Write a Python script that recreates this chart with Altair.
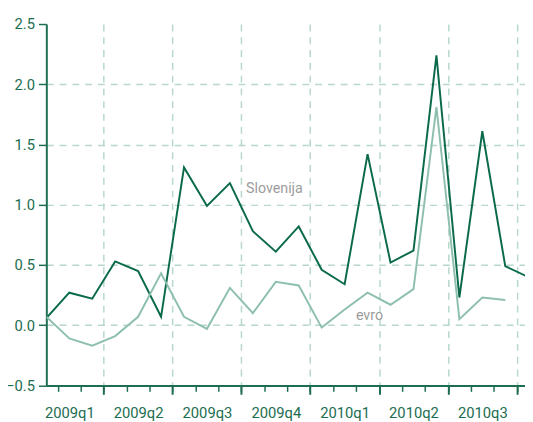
import altair as alt
import pandas as pd

# ---- data (monthly, Jan 2009 .. Oct 2010) ----
months = ["2009-01", "2009-02", "2009-03", "2009-04", "2009-05", "2009-06",
          "2009-07", "2009-08", "2009-09", "2009-10", "2009-11", "2009-12",
          "2010-01", "2010-02", "2010-03", "2010-04", "2010-05", "2010-06",
          "2010-07", "2010-08", "2010-09", "2010-10"]
slovenija = [0.06, 0.27, 0.22, 0.53, 0.45, 0.07, 1.31, 0.99, 1.18, 0.78, 0.61,
             0.82, 0.46, 0.34, 1.42, 0.52, 0.62, 2.24, 0.23, 1.61, 0.49, 0.40]
evro = [0.07, -0.11, -0.17, -0.09, 0.07, 0.43, 0.07, -0.03, 0.31, 0.10, 0.36,
        0.33, -0.02, 0.13, 0.27, 0.17, 0.30, 1.81, 0.05, 0.23, 0.21]

quarters = ["2009q1", "2009q2", "2009q3", "2009q4", "2010q1", "2010q2", "2010q3"]
quarter_centers = [1, 4, 7, 10, 13, 16, 19]
quarter_bounds = [2.5, 5.5, 8.5, 11.5, 14.5, 17.5, 20.5]
month_bounds = [k + 0.5 for k in range(21)]
y_ticks = [-0.5, 0.0, 0.5, 1.0, 1.5, 2.0, 2.5]

series_names = ["Slovenija", "evro"]
series_colors = ["#0b6a4c", "#8fc0ae"]
label_x = [8.7, 13.49]
label_y = [1.13, 0.08]

rows = []
for i, v in enumerate(slovenija):
    rows.append({"i": i, "month": months[i], "v": v, "s": "Slovenija"})
for i, v in enumerate(evro):
    rows.append({"i": i, "month": months[i], "v": v, "s": "evro"})
df = pd.DataFrame(rows)
lab = pd.DataFrame({"x": label_x, "y": label_y, "t": series_names})

FONT = "Roboto"
AX = "#1d6e51"
GRID = "#b7d8ca"

xs = alt.Scale(domain=[0, 20.86], nice=False, zero=False)
ys = alt.Scale(domain=[-0.5, 2.5], nice=False, zero=False)

label_expr = "[" + ",".join("'%s'" % q for q in quarters) + "][round((datum.value-1)/3)]"

y_axis = alt.Axis(values=y_ticks, format=".1f", domainColor=AX, domainWidth=2,
                  tickColor=AX, tickSize=8, tickWidth=1.5, labelPadding=4,
                  labelColor=AX, labelFont=FONT, labelFontSize=15,
                  gridColor=GRID, gridDash=[7, 6], gridWidth=1.5,
                  gridOpacity={"condition": {"test": "datum.value >= 2.5 || datum.value <= -0.5",
                                             "value": 0}, "value": 1})

lines = alt.Chart(df).mark_line(strokeWidth=2, clip=True).encode(
    x=alt.X("i:Q", scale=xs, title=None,
            axis=alt.Axis(orient="bottom", values=quarter_centers, labelExpr=label_expr,
                          ticks=False, grid=False, domainColor=AX, domainWidth=2,
                          labelColor=AX, labelFont=FONT, labelFontSize=15,
                          labelPadding=21)),
    y=alt.Y("v:Q", scale=ys, title=None, axis=y_axis),
    color=alt.Color("s:N", scale=alt.Scale(domain=series_names, range=series_colors),
                    legend=None),
    detail="s:N",
)

minor = alt.Chart(df).mark_point(opacity=0).encode(
    x=alt.X("i:Q", scale=xs, title=None,
            axis=alt.Axis(orient="bottom", values=month_bounds, labels=False, domain=False,
                          grid=False, tickColor=AX, tickSize=6, tickWidth=1.5)),
    y=alt.Y("v:Q", scale=ys, title=None, axis=y_axis),
)

major = alt.Chart(df).mark_point(opacity=0).encode(
    x=alt.X("i:Q", scale=xs, title=None,
            axis=alt.Axis(orient="bottom", values=quarter_bounds, labels=False, domain=False,
                          tickColor=AX, tickSize=9, tickWidth=2,
                          grid=True, gridColor=GRID, gridDash=[7, 6], gridWidth=1.5)),
    y=alt.Y("v:Q", scale=ys, title=None, axis=y_axis),
)

texts = alt.Chart(lab).mark_text(align="left", baseline="middle", font=FONT,
                                 fontSize=14.5, color="#9c9c9c").encode(
    x=alt.X("x:Q", scale=xs, axis=None),
    y=alt.Y("y:Q", scale=ys, title=None, axis=y_axis),
    text="t:N",
)

chart = alt.layer(lines, major, minor, texts).resolve_axis(x="independent").properties(
    width=487, height=367.7,
    autosize=alt.AutoSizeParams(type="none"),
    padding={"left": 39, "top": 12.7, "right": 0, "bottom": 36},
).configure_view(stroke=None)

chart.save("out.html", embed_options={"renderer": "svg", "actions": False})
